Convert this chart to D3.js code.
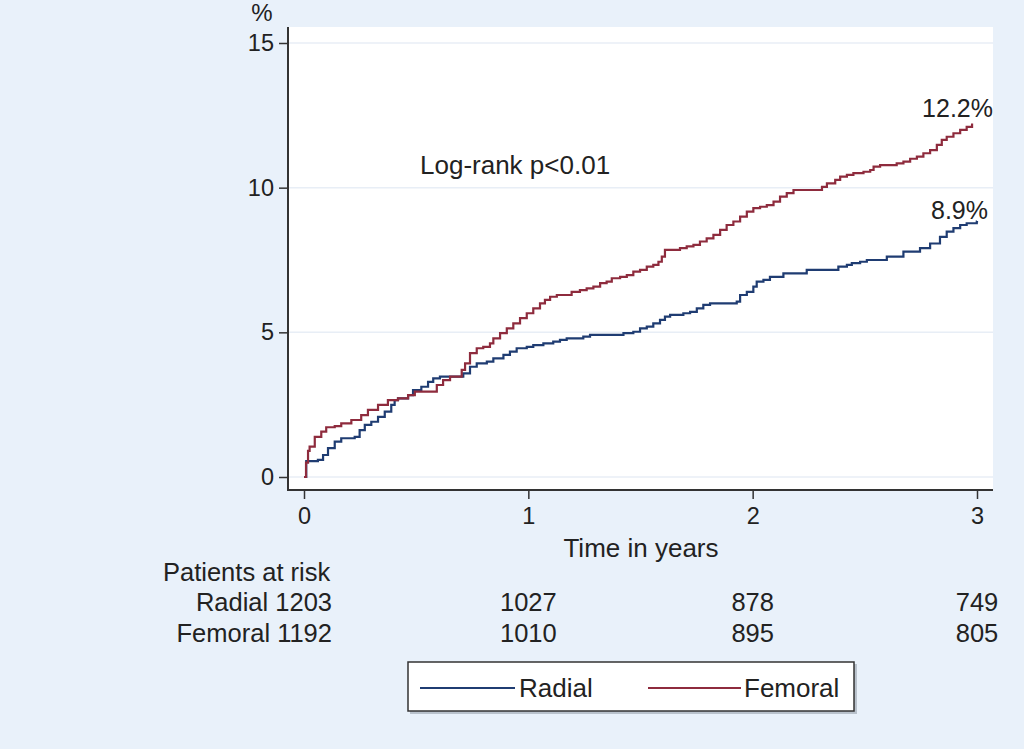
<!DOCTYPE html>
<html>
<head>
<meta charset="utf-8">
<script src="https://cdn.jsdelivr.net/npm/d3@7"></script>
<style>
  html, body { margin: 0; padding: 0; background: #e9f1fa; }
  svg { display: block; }
  text { font-family: "Liberation Sans", Arial, Helvetica, sans-serif; fill: #222; }
</style>
</head>
<body>
<svg id="chart" width="1024" height="749"></svg>
<script>
// ---- Data ----
const radialTime = [0, 0.01, 0.062, 0.085, 0.107, 0.137, 0.166, 0.226, 0.248, 0.271, 0.300, 0.330, 0.360, 0.389, 0.404, 0.419, 0.464, 0.486, 0.523, 0.553, 0.576, 0.606, 0.710, 0.740, 0.770, 0.815, 0.844, 0.889, 0.918, 0.948, 0.993, 1.022, 1.067, 1.111, 1.141, 1.171, 1.245, 1.275, 1.424, 1.468, 1.498, 1.528, 1.557, 1.587, 1.609, 1.632, 1.691, 1.721, 1.751, 1.780, 1.810, 1.929, 1.944, 1.974, 2.003, 2.018, 2.048, 2.077, 2.137, 2.241, 2.382, 2.420, 2.442, 2.479, 2.509, 2.598, 2.672, 2.746, 2.791, 2.835, 2.865, 2.895, 2.925, 2.954, 2.999, 3.0];
const radialRisk = [0, 0.55, 0.59, 0.76, 1.00, 1.22, 1.34, 1.39, 1.62, 1.80, 1.91, 2.08, 2.26, 2.49, 2.66, 2.72, 2.83, 3.00, 3.12, 3.29, 3.41, 3.47, 3.58, 3.81, 3.93, 3.99, 4.10, 4.22, 4.33, 4.45, 4.50, 4.56, 4.62, 4.68, 4.74, 4.79, 4.85, 4.91, 4.97, 5.02, 5.14, 5.20, 5.31, 5.43, 5.54, 5.60, 5.66, 5.71, 5.83, 5.95, 6.00, 6.06, 6.29, 6.40, 6.58, 6.75, 6.81, 6.92, 7.04, 7.16, 7.27, 7.33, 7.39, 7.44, 7.50, 7.62, 7.79, 7.91, 8.07, 8.30, 8.48, 8.60, 8.71, 8.77, 8.83, 8.85];

const femoralTime = [0, 0.009, 0.018, 0.025, 0.048, 0.077, 0.099, 0.137, 0.166, 0.211, 0.255, 0.285, 0.330, 0.374, 0.419, 0.464, 0.494, 0.592, 0.620, 0.651, 0.703, 0.718, 0.740, 0.770, 0.799, 0.829, 0.844, 0.874, 0.904, 0.933, 0.963, 0.993, 1.022, 1.052, 1.074, 1.097, 1.127, 1.193, 1.230, 1.260, 1.290, 1.320, 1.349, 1.372, 1.409, 1.439, 1.468, 1.498, 1.528, 1.557, 1.580, 1.595, 1.609, 1.676, 1.706, 1.736, 1.765, 1.795, 1.825, 1.855, 1.884, 1.914, 1.944, 1.974, 2.003, 2.033, 2.063, 2.093, 2.122, 2.152, 2.182, 2.309, 2.331, 2.368, 2.390, 2.420, 2.449, 2.494, 2.524, 2.539, 2.568, 2.642, 2.672, 2.702, 2.732, 2.761, 2.791, 2.821, 2.843, 2.865, 2.895, 2.925, 2.954, 2.978];
const femoralRisk = [0, 0.50, 0.90, 1.05, 1.39, 1.57, 1.72, 1.76, 1.85, 1.97, 2.14, 2.32, 2.49, 2.66, 2.72, 2.83, 2.95, 3.18, 3.35, 3.47, 3.70, 3.93, 4.28, 4.45, 4.50, 4.62, 4.79, 4.97, 5.14, 5.31, 5.49, 5.66, 5.83, 6.00, 6.12, 6.23, 6.29, 6.40, 6.46, 6.52, 6.58, 6.70, 6.75, 6.87, 6.92, 6.98, 7.10, 7.16, 7.27, 7.33, 7.44, 7.62, 7.85, 7.91, 7.97, 8.02, 8.14, 8.25, 8.37, 8.54, 8.71, 8.83, 9.00, 9.17, 9.29, 9.34, 9.40, 9.52, 9.69, 9.81, 9.92, 10.03, 10.15, 10.27, 10.38, 10.44, 10.50, 10.55, 10.61, 10.73, 10.78, 10.84, 10.90, 11.00, 11.07, 11.19, 11.30, 11.48, 11.65, 11.76, 11.88, 12.00, 12.10, 12.22];

const xTicks = [0, 1, 2, 3];
const yTicks = [0, 5, 10, 15];
const seriesNames = ["Radial", "Femoral"];
const seriesColors = ["#1f3c72", "#8e2b3d"];
const endLabels = ["8.9%", "12.2%"];
const atRiskRadial = [1203, 1027, 878, 749];
const atRiskFemoral = [1192, 1010, 895, 805];
const annotation = "Log-rank p<0.01";

// ---- Layout ----
const svg = d3.select("#chart");
const frame = { left: 288, right: 993, top: 27, bottom: 490 };
const x = d3.scaleLinear().domain([0, 3]).range([304, 977]);
const y = d3.scaleLinear().domain([0, 15]).range([477, 43]);
const FS = 25.5;

// plot area
svg.append("rect")
  .attr("x", frame.left).attr("y", frame.top)
  .attr("width", frame.right - frame.left).attr("height", frame.bottom - frame.top)
  .attr("fill", "#ffffff");

// gridlines
svg.append("g").selectAll("line").data(yTicks).join("line")
  .attr("x1", frame.left + 1).attr("x2", frame.right)
  .attr("y1", d => y(d)).attr("y2", d => y(d))
  .attr("stroke", "#e8eef6").attr("stroke-width", 1.5);

// y axis
const yAxis = d3.axisLeft(y).tickValues(yTicks).tickSize(9).tickPadding(5).tickFormat(d3.format("d"));
const gy = svg.append("g").attr("transform", `translate(${frame.left},0)`).call(yAxis);
gy.select(".domain").remove();
gy.append("line").attr("x1", 0).attr("x2", 0).attr("y1", frame.top).attr("y2", frame.bottom + 1)
  .attr("stroke", "#333").attr("stroke-width", 2);
gy.selectAll(".tick line").attr("stroke", "#333").attr("stroke-width", 1.5);
gy.selectAll(".tick text").attr("font-size", 23.5).style("fill", "#222")
  .attr("font-family", "Liberation Sans, Arial, sans-serif");

// x axis
const xAxis = d3.axisBottom(x).tickValues(xTicks).tickSize(9).tickPadding(8).tickFormat(d3.format("d"));
const gx = svg.append("g").attr("transform", `translate(0,${frame.bottom})`).call(xAxis);
gx.select(".domain").remove();
gx.append("line").attr("x1", frame.left - 1).attr("x2", frame.right).attr("y1", 0).attr("y2", 0)
  .attr("stroke", "#333").attr("stroke-width", 2);
gx.selectAll(".tick line").attr("stroke", "#333").attr("stroke-width", 1.5);
gx.selectAll(".tick text").attr("font-size", 23.5).style("fill", "#222")
  .attr("font-family", "Liberation Sans, Arial, sans-serif");

// "%" label
svg.append("text").attr("x", 262).attr("y", 13).attr("dy", "0.35em")
  .attr("text-anchor", "middle").attr("font-size", 24).text("%");

// curves
const line = d3.line().x(d => x(d[0])).y(d => y(d[1])).curve(d3.curveStepAfter);
const series = [
  d3.zip(radialTime, radialRisk),
  d3.zip(femoralTime, femoralRisk)
];
svg.append("g").selectAll("path").data(series).join("path")
  .attr("d", line)
  .attr("fill", "none")
  .attr("stroke", (d, i) => seriesColors[i])
  .attr("stroke-width", 2.2)
  .attr("stroke-linejoin", "miter");

// end labels
svg.append("text").attr("x", 993).attr("y", 117).attr("text-anchor", "end")
  .attr("font-size", 25).text(endLabels[1]);
svg.append("text").attr("x", 988).attr("y", 219).attr("text-anchor", "end")
  .attr("font-size", 25).text(endLabels[0]);

// annotation
svg.append("text").attr("x", 420).attr("y", 174).attr("font-size", 26).text(annotation);

// x axis title
svg.append("text").attr("x", 641).attr("y", 548).attr("dy", "0.35em")
  .attr("text-anchor", "middle").attr("font-size", 26).text("Time in years");

// at-risk table
svg.append("text").attr("x", 163).attr("y", 572).attr("dy", "0.35em")
  .attr("font-size", FS).text("Patients at risk");
const rows = [
  { name: seriesNames[0], vals: atRiskRadial, yy: 602 },
  { name: seriesNames[1], vals: atRiskFemoral, yy: 633 }
];
rows.forEach(r => {
  svg.append("text").attr("x", 332).attr("y", r.yy).attr("dy", "0.35em")
    .attr("text-anchor", "end").attr("font-size", FS).text(r.name + " " + r.vals[0]);
  svg.append("g").selectAll("text").data(r.vals.slice(1)).join("text")
    .attr("x", (d, i) => x(xTicks[i + 1]))
    .attr("y", r.yy).attr("dy", "0.35em")
    .attr("text-anchor", "middle").attr("font-size", FS).text(d => d);
});

// legend
const lg = svg.append("g");
lg.append("rect").attr("x", 410).attr("y", 664).attr("width", 447).attr("height", 50)
  .attr("fill", "#9aa3ad").attr("opacity", 0.6);
lg.append("rect").attr("x", 408).attr("y", 662).attr("width", 446).attr("height", 49)
  .attr("fill", "#ffffff").attr("stroke", "#333").attr("stroke-width", 1.5);
const legendItems = [
  { x1: 420, x2: 515, tx: 519 },
  { x1: 648, x2: 741, tx: 744 }
];
legendItems.forEach((it, i) => {
  lg.append("line").attr("x1", it.x1).attr("x2", it.x2).attr("y1", 688).attr("y2", 688)
    .attr("stroke", seriesColors[i]).attr("stroke-width", 2.2);
  lg.append("text").attr("x", it.tx).attr("y", 688).attr("dy", "0.35em")
    .attr("font-size", 26).text(seriesNames[i]);
});
</script>
</body>
</html>
